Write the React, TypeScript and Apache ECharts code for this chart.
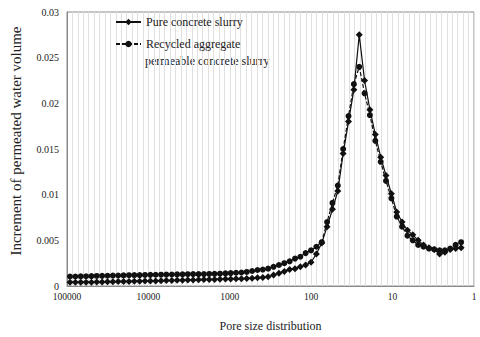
import React, { useEffect, useRef } from "react";
import * as echarts from "echarts";

const poreSizes = [
  91800, 78900, 67800, 58300, 50100, 43100, 37000, 31800, 27300, 23500, 20200, 17300, 14900, 12800, 11000,
  9460, 8130, 6990, 6010, 5160, 4440, 3810, 3280, 2820, 2420, 2080, 1790, 1540, 1320, 1130,
  975, 838, 720, 619, 532, 457, 393, 338, 290, 249, 214, 184, 158, 136, 117,
  100.5, 86.4, 74.2, 63.8, 54.8, 47.1, 40.5, 34.8, 29.9, 25.7, 22.1, 19.0, 16.3, 14.0, 12.05,
  10.35, 8.9, 7.65, 6.57, 5.65, 4.85, 4.17, 3.58, 3.08, 2.65, 2.28, 1.96, 1.68, 1.44,
];

const pureSlurry = [
  0.0004, 0.0004, 0.00041, 0.00042, 0.00042, 0.00044, 0.00045, 0.00046, 0.00047, 0.00048, 0.0005, 0.0005,
  0.00052, 0.00053, 0.00054, 0.00055, 0.00056, 0.00058, 0.00059, 0.0006, 0.00062, 0.00063, 0.00065, 0.00066,
  0.00068, 0.0007, 0.00071, 0.00072, 0.00074, 0.00076, 0.00078, 0.0008, 0.0008, 0.00082, 0.00086, 0.0009,
  0.00093, 0.001, 0.0012, 0.0014, 0.0016, 0.0018, 0.0019, 0.0021, 0.0023, 0.0026, 0.0035, 0.0047, 0.0065,
  0.0084, 0.0104, 0.0145, 0.018, 0.0215, 0.0275,
  0.0225, 0.0193, 0.0166, 0.0141, 0.0121, 0.0101, 0.0081, 0.007, 0.0061, 0.0056, 0.005, 0.0045, 0.0042,
  0.004, 0.0035, 0.0037, 0.004, 0.0041, 0.0042,
];

const recycledSlurry = [
  0.00104, 0.00104, 0.00106, 0.00107, 0.00108, 0.0011, 0.00111, 0.00112, 0.00114, 0.00115, 0.00116, 0.00118,
  0.00119, 0.0012, 0.00121, 0.00122, 0.00123, 0.00124, 0.00125, 0.00126, 0.00127, 0.00128, 0.00129, 0.0013,
  0.0013, 0.00131, 0.00132, 0.00133, 0.00135, 0.00138, 0.00142, 0.00145, 0.00148, 0.00154, 0.00164, 0.00175,
  0.0018, 0.0019, 0.0021, 0.0023, 0.0025, 0.0027, 0.003, 0.0032, 0.0036, 0.0039, 0.0043, 0.0048, 0.007,
  0.0091, 0.011, 0.015, 0.0186, 0.0221, 0.024,
  0.0211, 0.0187, 0.0159, 0.0136, 0.0115, 0.0096, 0.0076, 0.0065, 0.0055, 0.005, 0.0045, 0.0043, 0.0041,
  0.004, 0.0039, 0.0039, 0.0041, 0.0045, 0.0048,
];

const seriesNames = ["Pure concrete slurry", "Recycled aggregate permeable concrete slurry"];
const recycledLegendLines = ["Recycled aggregate", "permeable concrete slurry"];
const yTicks = { min: 0, max: 0.03, step: 0.005 };
const xRange = { min: 1, max: 100000 };

const FONT = "Liberation Serif";
const TEXT = "#222";

export default function App() {
  const ref = useRef<HTMLDivElement>(null);

  useEffect(() => {
    if (!ref.current) return;
    const chart = echarts.init(ref.current, undefined, { renderer: "svg" });
    const legendCommon = {
      left: 115,
      padding: 0,
      orient: "vertical",
      itemWidth: 25,
      itemHeight: 8,
      textStyle: { fontFamily: FONT, fontSize: 12, color: TEXT, lineHeight: 12 },
    };
    const option: any = {
      animation: false,
      backgroundColor: "#fff",
      textStyle: { fontFamily: FONT, color: TEXT },
      grid: {
        left: 65,
        right: 6,
        top: 12,
        bottom: 45,
        show: true,
        borderColor: "#8a8a8a",
        borderWidth: 1,
      },
      legend: [
        { ...legendCommon, data: [seriesNames[0]], top: 16 },
        {
          ...legendCommon,
          data: [seriesNames[1]],
          top: 38,
          formatter: () => recycledLegendLines[0],
        },
      ],
      graphic: [
        {
          type: "text",
          left: 145,
          top: 55,
          style: {
            text: recycledLegendLines[1],
            fontFamily: FONT,
            fontSize: 12,
            fill: TEXT,
          },
        },
      ],
      xAxis: [
        {
          type: "log",
          logBase: 10,
          min: xRange.min,
          max: xRange.max,
          inverse: true,
          position: "bottom",
          axisLine: { show: true, lineStyle: { color: "#8a8a8a", width: 1 } },
          axisTick: { show: false },
          splitLine: { show: false },
          axisLabel: {
            fontFamily: FONT,
            fontSize: 9.5,
            color: TEXT,
            margin: 6,
            formatter: (v: number) => String(v),
          },
          name: "Pore size distribution",
          nameLocation: "middle",
          nameGap: 34,
          nameTextStyle: { fontFamily: FONT, fontSize: 12, color: TEXT },
        },
        {
          type: "value",
          min: 0,
          max: 5,
          interval: 1 / 15,
          position: "top",
          axisLine: { show: false },
          axisTick: { show: false },
          axisLabel: { show: false },
          splitLine: { show: true, lineStyle: { color: "#e0e0e0", width: 1 } },
        },
      ],
      yAxis: {
        type: "value",
        min: yTicks.min,
        max: yTicks.max,
        interval: yTicks.step,
        axisLine: { show: true, lineStyle: { color: "#8a8a8a", width: 1 } },
        axisTick: { show: false },
        splitLine: { show: false },
        axisLabel: { fontFamily: FONT, fontSize: 10, color: TEXT, margin: 8 },
        name: "Increment of permeated water volume",
        nameLocation: "middle",
        nameGap: 44,
        nameTextStyle: { fontFamily: FONT, fontSize: 15, color: TEXT, padding: [0, 0, 0, 16] },
      },
      series: [
        {
          name: seriesNames[1],
          type: "line",
          xAxisIndex: 0,
          data: poreSizes.map((s, i) => [s, recycledSlurry[i]]),
          symbol: "circle",
          symbolSize: 6,
          showAllSymbol: true,
          itemStyle: { color: "#111" },
          lineStyle: { color: "#111", width: 1.2, type: [4, 2] },
        },
        {
          name: seriesNames[0],
          type: "line",
          xAxisIndex: 0,
          data: poreSizes.map((s, i) => [s, pureSlurry[i]]),
          symbol: "diamond",
          symbolSize: 7,
          showAllSymbol: true,
          itemStyle: { color: "#111" },
          lineStyle: { color: "#111", width: 1.2, type: "solid" },
        },
      ],
    };
    chart.setOption(option);
    return () => chart.dispose();
  }, []);

  return (
    <div
      ref={ref}
      style={{ position: "fixed", left: 0, top: 0, width: 480, height: 337, background: "#fff" }}
    />
  );
}
